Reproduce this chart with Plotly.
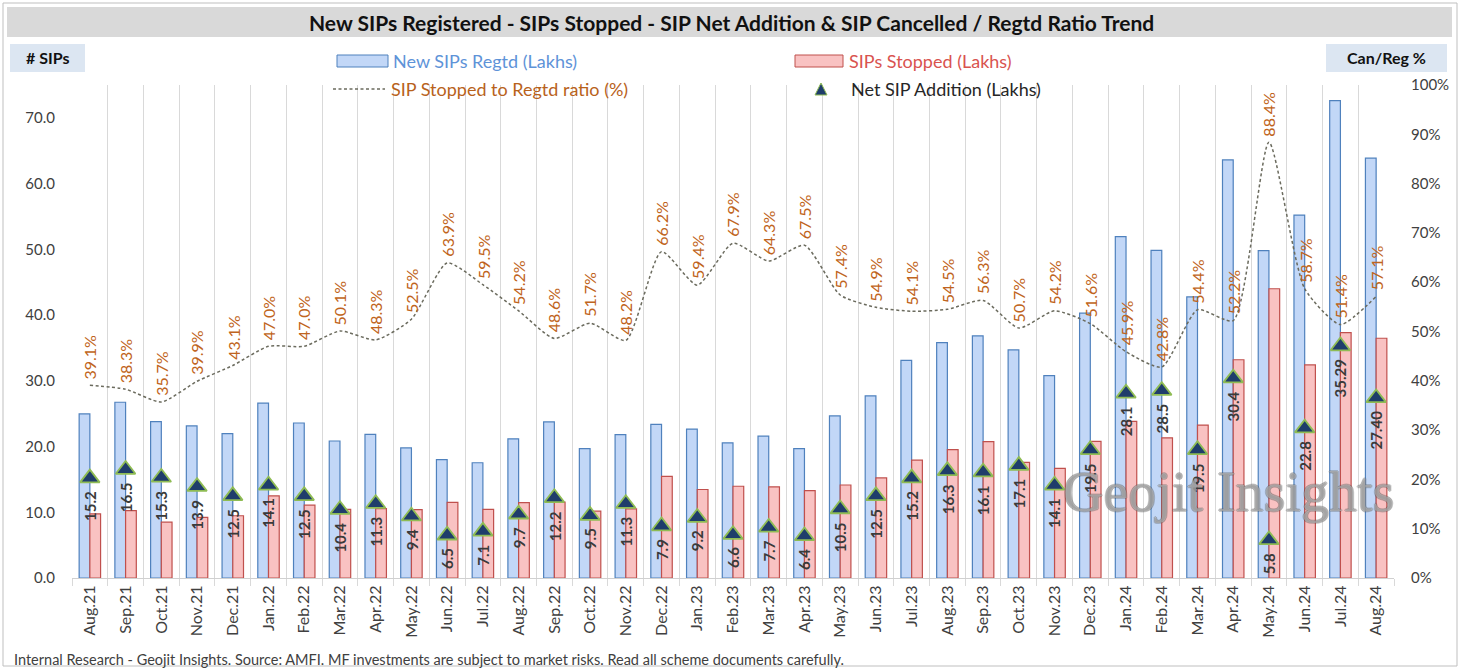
import plotly.graph_objects as go

months = ["Aug.21", "Sep.21", "Oct.21", "Nov.21", "Dec.21", "Jan.22", "Feb.22", "Mar.22",
          "Apr.22", "May.22", "Jun.22", "Jul.22", "Aug.22", "Sep.22", "Oct.22", "Nov.22",
          "Dec.22", "Jan.23", "Feb.23", "Mar.23", "Apr.23", "May.23", "Jun.23", "Jul.23",
          "Aug.23", "Sep.23", "Oct.23", "Nov.23", "Dec.23", "Jan.24", "Feb.24", "Mar.24",
          "Apr.24", "May.24", "Jun.24", "Jul.24", "Aug.24"]

new_regd = [24.96, 26.74, 23.79, 23.13, 21.97, 26.60, 23.58, 20.84, 21.86, 19.79, 18.01, 17.53,
            21.18, 23.74, 19.67, 21.81, 23.37, 22.66, 20.56, 21.57, 19.69, 24.65, 27.72, 33.12,
            35.82, 36.84, 34.69, 30.79, 40.29, 51.94, 49.83, 42.76, 63.60, 49.80, 55.21, 72.61, 63.87]

stopped = [9.76, 10.24, 8.49, 9.23, 9.47, 12.50, 11.08, 10.44, 10.56, 10.39, 11.51, 10.43,
           11.48, 11.54, 10.17, 10.51, 15.47, 13.46, 13.96, 13.87, 13.29, 14.15, 15.22, 17.92,
           19.52, 20.74, 17.59, 16.69, 20.79, 23.84, 21.33, 23.26, 33.20, 44.00, 32.41, 37.32, 36.47]

net_add = [15.2, 16.5, 15.3, 13.9, 12.5, 14.1, 12.5, 10.4, 11.3, 9.4, 6.5, 7.1,
           9.7, 12.2, 9.5, 11.3, 7.9, 9.2, 6.6, 7.7, 6.4, 10.5, 12.5, 15.2,
           16.3, 16.1, 17.1, 14.1, 19.5, 28.1, 28.5, 19.5, 30.4, 5.8, 22.8, 35.29, 27.40]
net_labels = ["15.2", "16.5", "15.3", "13.9", "12.5", "14.1", "12.5", "10.4", "11.3", "9.4", "6.5", "7.1",
              "9.7", "12.2", "9.5", "11.3", "7.9", "9.2", "6.6", "7.7", "6.4", "10.5", "12.5", "15.2",
              "16.3", "16.1", "17.1", "14.1", "19.5", "28.1", "28.5", "19.5", "30.4", "5.8", "22.8", "35.29", "27.40"]

ratio_pct = [39.1, 38.3, 35.7, 39.9, 43.1, 47.0, 47.0, 50.1, 48.3, 52.5, 63.9, 59.5,
             54.2, 48.6, 51.7, 48.2, 66.2, 59.4, 67.9, 64.3, 67.5, 57.4, 54.9, 54.1,
             54.5, 56.3, 50.7, 54.2, 51.6, 45.9, 42.8, 54.4, 52.2, 88.4, 58.7, 51.4, 57.1]

left_ticks = [0, 10, 20, 30, 40, 50, 60, 70]
right_ticks = [0, 10, 20, 30, 40, 50, 60, 70, 80, 90, 100]
right_tick_text = ["0%", "10%", "20%", "30%", "40%", "50%", "60%", "70%", "80%", "90%", "100%"]

W, H = 1465, 669
L, R, T, B = 72, 1394, 85, 578


def fx(px):
    return (px - L) / (R - L)


def fy(py):
    return (B - py) / (B - T)


FONT = "Lato"
BLUE_FILL = "#c2d7f7"
BLUE_LINE = "#4f81bd"
RED_FILL = "#f9c2c2"
RED_LINE = "#c0504d"
RATIO_COL = "#bf6420"
TXT = "#404040"

fig = go.Figure()
fig.add_bar(x=months, y=new_regd, name="New SIPs Regtd (Lakhs)",
            marker=dict(color=BLUE_FILL, line=dict(color=BLUE_LINE, width=1.2)))
fig.add_bar(x=months, y=stopped, name="SIPs Stopped (Lakhs)",
            marker=dict(color=RED_FILL, line=dict(color=RED_LINE, width=1.2)))
fig.add_scatter(x=months, y=net_add, name="Net SIP Addition (Lakhs)", mode="markers",
                marker=dict(symbol="triangle-up", size=17, color="#1f3d6b",
                            line=dict(color="#8fbc54", width=1.8)))
fig.add_scatter(x=months, y=ratio_pct, name="SIP Stopped to Regtd ratio (%)", yaxis="y2",
                mode="lines",
                line=dict(color="#6b6b5e", width=1.5, dash="3px,2.5px", shape="spline", smoothing=0.6))

ann = []
for m, r in zip(months, ratio_pct):
    ann.append(dict(x=m, y=r, xref="x", yref="y2", text=f"{r:.1f}%", textangle=-90,
                    showarrow=False, xanchor="center", yanchor="bottom", yshift=4,
                    font=dict(family=FONT, size=16, color=RATIO_COL)))
for m, v, t in zip(months, net_add, net_labels):
    ann.append(dict(x=m, y=v, xref="x", yref="y", text=t, textangle=-90,
                    showarrow=False, xanchor="center", yanchor="top", yshift=-11,
                    font=dict(family=FONT, size=15, color="#3a3a3a", weight="bold")))

# title & boxes
ann.append(dict(x=fx(731), y=fy(22), xref="paper", yref="paper", showarrow=False,
                text="New SIPs Registered - SIPs Stopped - SIP Net Addition & SIP Cancelled / Regtd Ratio Trend",
                font=dict(family=FONT, size=21, color="#111111", weight="bold"),
                xanchor="center", yanchor="middle"))
ann.append(dict(x=fx(47), y=fy(58), xref="paper", yref="paper", showarrow=False, text="# SIPs",
                font=dict(family=FONT, size=16, color="#111111", weight="bold"),
                xanchor="center", yanchor="middle"))
ann.append(dict(x=fx(1386), y=fy(58), xref="paper", yref="paper", showarrow=False, text="Can/Reg %",
                font=dict(family=FONT, size=16, color="#111111", weight="bold"),
                xanchor="center", yanchor="middle"))
# legend texts
legend_items = [
    (391, 61, "New SIPs Regtd (Lakhs)", "#5e93d8"),
    (847, 61, "SIPs Stopped (Lakhs)", "#d9534f"),
    (389, 89, "SIP Stopped to Regtd ratio (%)", "#b8621b"),
    (849, 89, "Net SIP Addition (Lakhs)", "#262626"),
]
for px, py, t, c in legend_items:
    ann.append(dict(x=fx(px), y=fy(py), xref="paper", yref="paper", showarrow=False, text=t,
                    font=dict(family=FONT, size=18, color=c), xanchor="left", yanchor="middle"))
# footer
ann.append(dict(x=fx(12), y=fy(659), xref="paper", yref="paper", showarrow=False,
                text="Internal Research - Geojit Insights. Source: AMFI. MF investments are subject to market risks. Read all scheme documents carefully.",
                font=dict(family=FONT, size=14.5, color=TXT), xanchor="left", yanchor="middle"))
# watermark
wm_edge = "rgba(80,80,80,0.55)"
ann.append(dict(x=fx(1228), y=fy(492), xref="paper", yref="paper", showarrow=False,
                text="Geojit Insights",
                font=dict(family="Liberation Serif", size=56, color="rgba(200,200,200,0.55)",
                          shadow=f"1px 0 0 {wm_edge}, -1px 0 0 {wm_edge}, 0 1px 0 {wm_edge}, 0 -1px 0 {wm_edge}"),
                xanchor="center", yanchor="middle"))

shapes = [
    dict(type="rect", xref="paper", yref="paper", x0=fx(3), x1=fx(1457), y0=fy(3), y1=fy(666),
         line=dict(color="#bfbfbf", width=1), fillcolor="rgba(0,0,0,0)", layer="below"),
    dict(type="rect", xref="paper", yref="paper", x0=fx(7), x1=fx(1452), y0=fy(7), y1=fy(37),
         line=dict(width=0), fillcolor="#d9d9d9", layer="below"),
    dict(type="rect", xref="paper", yref="paper", x0=fx(10), x1=fx(85), y0=fy(44), y1=fy(72),
         line=dict(width=0), fillcolor="#dce6f2", layer="below"),
    dict(type="rect", xref="paper", yref="paper", x0=fx(1326), x1=fx(1447), y0=fy(44), y1=fy(72),
         line=dict(width=0), fillcolor="#dce6f2", layer="below"),
    # legend icons
    dict(type="rect", xref="paper", yref="paper", x0=fx(337), x1=fx(388), y0=fy(55), y1=fy(67),
         line=dict(color=BLUE_LINE, width=1), fillcolor=BLUE_FILL),
    dict(type="rect", xref="paper", yref="paper", x0=fx(795), x1=fx(843), y0=fy(55), y1=fy(67),
         line=dict(color=RED_LINE, width=1), fillcolor=RED_FILL),
    dict(type="line", xref="paper", yref="paper", x0=fx(333), x1=fx(385), y0=fy(89), y1=fy(89),
         line=dict(color="#6b6b5e", width=1.5, dash="3px,2.5px")),
    dict(type="path", xref="paper", yref="paper",
         path=f"M {fx(815)} {fy(95)} L {fx(827)} {fy(95)} L {fx(821)} {fy(83)} Z",
         line=dict(color="#8fbc54", width=1), fillcolor="#1f3d6b"),
]

fig.update_layout(
    width=W, height=H, autosize=False,
    margin=dict(l=L, r=W - R, t=T, b=H - B, pad=0),
    paper_bgcolor="white", plot_bgcolor="white",
    showlegend=False,
    barmode="group", bargap=0.4, bargroupgap=0,
    font=dict(family=FONT, color=TXT),
    annotations=ann, shapes=shapes,
    xaxis=dict(type="category", range=[-0.5, len(months) - 0.5], tickson="boundaries",
               showgrid=True, gridcolor="#d9d9d9", gridwidth=1,
               ticks="outside", ticklen=7, tickcolor="#d9d9d9",
               showline=True, linecolor="#d0d0d0", linewidth=1,
               tickangle=-90, tickfont=dict(family=FONT, size=16, color=TXT)),
    yaxis=dict(range=[0, 75], tickvals=left_ticks, tickformat=".1f", showgrid=False,
               zeroline=False, showline=False, ticks="", ticklabelstandoff=16,
               tickfont=dict(family=FONT, size=15, color=TXT)),
    yaxis2=dict(range=[0, 100], tickvals=right_ticks, ticktext=right_tick_text,
                overlaying="y", side="right",
                showgrid=False, zeroline=False, showline=False, ticks="", ticklabelstandoff=16,
                tickfont=dict(family=FONT, size=15, color=TXT)),
)

fig.write_html("out.html", config={"displayModeBar": False},
               post_script="document.body.style.margin='0';document.body.style.overflow='hidden';")
